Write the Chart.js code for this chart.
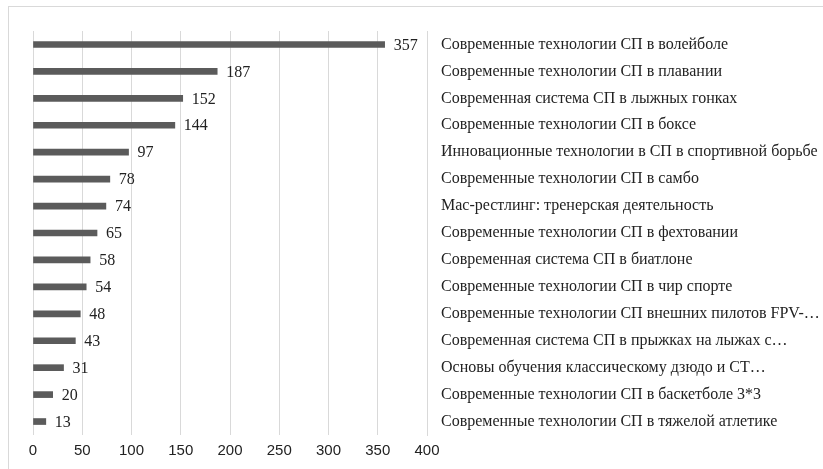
<!DOCTYPE html>
<html>
  <head>
    <title>Курсы СП</title>
    <style>
      body { margin: 0; background: #fff; }
      #frame { position: absolute; left: 8px; top: 6px; width: 900px; height: 520px; border: 1px solid #d9d9d9; }
      #wrap { position: absolute; left: 0; top: 0; width: 823px; height: 469px; }
    </style>
  </head>
  <body>
    <script src="https://cdn.jsdelivr.net/npm/chart.js@4.4.1/dist/chart.umd.min.js"></script>

    <div id="frame"></div>
    <div id="wrap"><canvas id="courseChart"></canvas></div>

    <script>
      // Categories (top to bottom)
      const categories = [
        "Современные технологии СП в волейболе",
        "Современные технологии СП в плавании",
        "Современная система СП в лыжных гонках",
        "Современные технологии СП в боксе",
        "Инновационные технологии в СП в спортивной борьбе",
        "Современные технологии СП в самбо",
        "Мас-рестлинг: тренерская деятельность",
        "Современные технологии СП в фехтовании",
        "Современная система СП в биатлоне",
        "Современные технологии СП в чир спорте",
        "Современные технологии СП внешних пилотов FPV-…",
        "Современная система СП в прыжках на лыжах с…",
        "Основы обучения классическому дзюдо и СТ…",
        "Современные технологии СП в баскетболе 3*3",
        "Современные технологии СП в тяжелой атлетике"
      ];

      // Values
      const values = [357, 187, 152, 144, 97, 78, 74, 65, 58, 54, 48, 43, 31, 20, 13];

      // X axis ticks
      const xMin = 0;
      const xMax = 400;
      const xStep = 50;

      // Draw value next to the end of every bar
      const valueLabels = {
        id: "valueLabels",
        afterDatasetsDraw(chart) {
          const ctx = chart.ctx;
          const meta = chart.getDatasetMeta(0);
          ctx.save();
          ctx.font = "16px 'Liberation Serif'";
          ctx.fillStyle = "#222";
          ctx.textAlign = "left";
          ctx.textBaseline = "middle";
          meta.data.forEach((bar, i) => {
            ctx.fillText(String(values[i]), bar.x + 9, bar.y + 1);
          });
          ctx.restore();
        }
      };

      const ctx = document.getElementById("courseChart").getContext("2d");

      const chart = new Chart(ctx, {
        type: "bar",
        data: {
          labels: categories,
          datasets: [{
            data: values,
            backgroundColor: "#5b5b5b",
            barThickness: 6
          }]
        },
        options: {
          indexAxis: "y",
          responsive: true,
          maintainAspectRatio: false,
          animation: false,
          layout: { padding: { left: 33, top: 31, right: 0, bottom: 0 } },
          plugins: {
            legend: { display: false },
            tooltip: { enabled: false }
          },
          scales: {
            x: {
              min: xMin,
              max: xMax,
              ticks: {
                stepSize: xStep,
                padding: 7,
                color: "#222",
                font: { family: "'Liberation Sans'", size: 15 }
              },
              grid: { color: "#d9d9d9", drawTicks: false },
              border: { display: false },
              afterFit(scale) { scale.height = 34; }
            },
            y: {
              position: "right",
              ticks: {
                padding: 14,
                color: "#222",
                font: { family: "'Liberation Serif'", size: 16 }
              },
              grid: { display: false, drawTicks: false },
              border: { display: true, color: "#d9d9d9" },
              afterFit(scale) { scale.width = 396; }
            }
          }
        },
        plugins: [valueLabels]
      });
    </script>
  </body>
</html>
